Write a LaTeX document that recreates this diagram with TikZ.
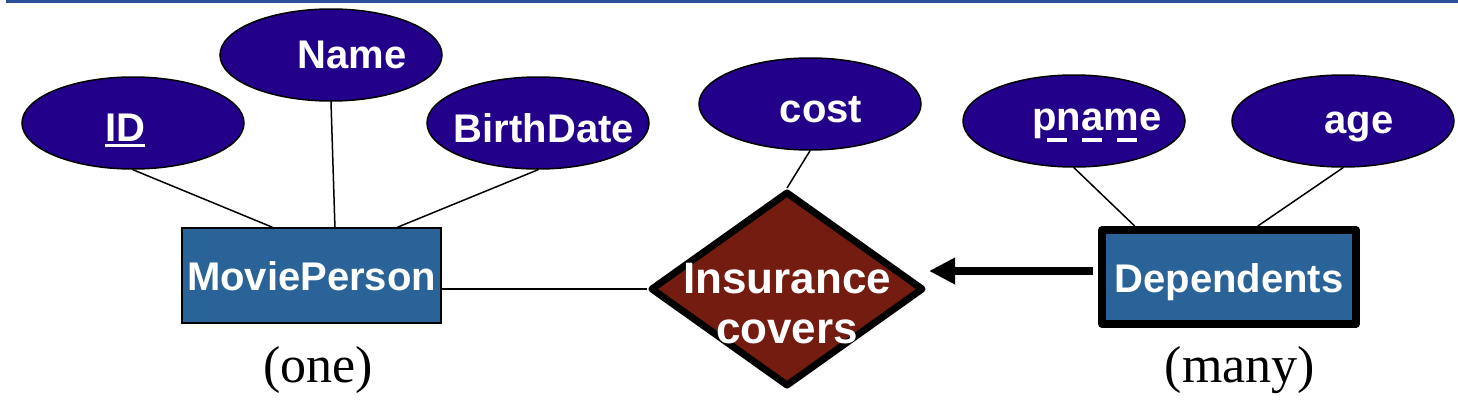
\documentclass[tikz,border=0pt]{standalone}
\usepackage{fontspec}
\setmainfont{Liberation Serif}
\setsansfont{Liberation Sans}
\usetikzlibrary{shapes.geometric,arrows.meta,calc}

\definecolor{attrfill}{RGB}{34,0,138}
\definecolor{entfill}{RGB}{41,99,152}
\definecolor{relfill}{RGB}{115,28,15}
\definecolor{rulecol}{RGB}{43,80,150}

\begin{document}
\begin{tikzpicture}[x=0.5pt,y=-0.5pt,
    attr/.style={shape=ellipse,draw=black,line width=0.75pt,fill=attrfill,minimum width=111pt,minimum height=46pt,inner sep=0pt},
    attrtext/.style={text=white,font=\sffamily\bfseries\fontsize{20}{24}\selectfont,inner sep=0pt,anchor=base},
    entity/.style={shape=rectangle,draw=black,fill=entfill,text=white,font=\sffamily\bfseries\fontsize{20}{24}\selectfont,text height=15pt,text depth=0pt,inner sep=0pt},
    card/.style={font=\fontsize{26}{30}\selectfont,anchor=base,inner sep=0pt}]
    \useasboundingbox (0,0) rectangle (1458,408);
    \draw[rulecol,line width=1.5pt] (6,1.5) -- (1458,1.5);

    % attributes
    \node[attr] (id) at (133,123) {};
    \node[attrtext] (id-t) at (125,141) {ID};
    \draw[white,line width=1.25pt] ([yshift=-2.25pt]id-t.base west) -- ([yshift=-2.25pt]id-t.base east);
    \node[attr] (name) at (331,55) {};
    \node[attrtext] (name-t) at (352,68) {Name};
    \node[attr] (bdate) at (538,123) {};
    \node[attrtext] (bdate-t) at (544,142) {BirthDate};
    \node[attr] (cost) at (810,104) {};
    \node[attrtext] (cost-t) at (821,122) {cost};
    \node[attr] (pname) at (1074,121) {};
    \node[attrtext] (pname-t) at (1097,130) {pname};
    \draw[white,line width=2pt,dash pattern=on 10pt off 7.5pt,dash phase=10pt] ([yshift=-5pt]pname-t.base west) -- ([xshift=-5pt,yshift=-5pt]pname-t.base east);
    \node[attr] (age) at (1343,121) {};
    \node[attrtext] (age-t) at (1359,133) {age};

    % entities and relationship
    \node[entity,minimum width=129.5pt,minimum height=47.5pt,line width=0.75pt] (mp) at (311.5,275.5) {MoviePerson};
    \node[entity,minimum width=127pt,minimum height=47pt,line width=4pt,line join=round] (dep) at (1229,277) {Dependents};
    \node[shape=diamond,draw=black,fill=relfill,line width=3.5pt,line join=round,minimum width=136.5pt,minimum height=97.5pt,inner sep=0pt] (ins) at (787,289) {};
    \node[text=white,font=\sffamily\bfseries\fontsize{22}{25}\selectfont,align=center,anchor=north,inner sep=0pt] (ins-t) at (787,263) {Insurance\\covers};

    \draw[line width=0.75pt] (id.south) -- ($(mp.north west)!0.35!(mp.north east)$);
    \draw[line width=0.75pt] (name.south) -- ($(mp.north west)!0.59!(mp.north east)$);
    \draw[line width=0.75pt] (bdate.south) -- ($(mp.north west)!0.83!(mp.north east)$);
    \draw[line width=0.75pt] (cost.south) -- (ins.north);
    \draw[line width=0.75pt] (pname.south) -- ($(dep.north west)!0.14!(dep.north east)$);
    \draw[line width=0.75pt] (age.south) -- ($(dep.north west)!0.61!(dep.north east)$);
    \draw[line width=0.75pt] (ins.west) -- (ins.west -| mp.east);
    \draw[line width=4pt,-{Triangle[length=13pt,width=12.5pt]}] ([xshift=-2.5pt,yshift=3pt]dep.west) -- ([xshift=1pt,yshift=9pt]ins.east);

    \node[card] (one) at (318,382) {(one)};
    \node[card] (many) at (1240,382) {(many)};
\end{tikzpicture}
\end{document}
